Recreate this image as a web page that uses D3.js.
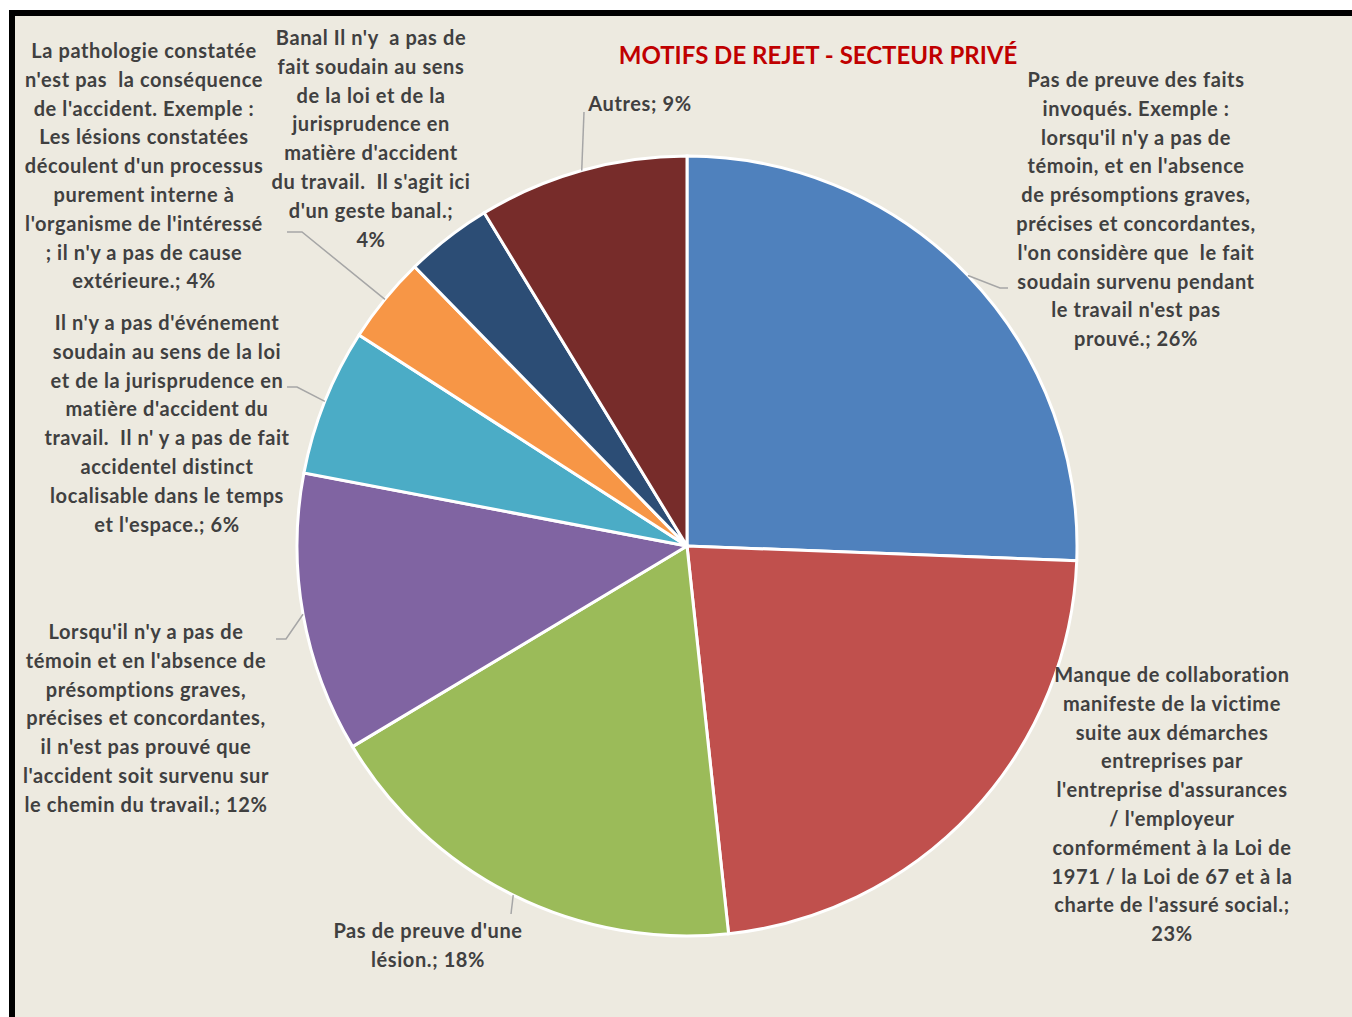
<!DOCTYPE html>
<html>
<head>
<meta charset="utf-8">
<script src="https://cdn.jsdelivr.net/npm/d3@7"></script>
<style>
  body { margin: 0; background: #fff; }
  text { font-family: Lato, "Open Sans", sans-serif; font-weight: bold; white-space: pre; }
</style>
</head>
<body>
<div id="chart"></div>
<script>
const title = "MOTIFS DE REJET - SECTEUR PRIVÉ"

// slices, clockwise from 12 o'clock
const categories = [
  "Pas de preuve des faits invoqués",
  "Manque de collaboration manifeste de la victime",
  "Pas de preuve d'une lésion",
  "Chemin du travail non prouvé",
  "Pas d'événement soudain",
  "Pathologie non consécutive à l'accident",
  "Banal",
  "Autres"
]
const values = [25.6, 22.7, 18.1, 11.6, 6.1, 3.6, 3.6, 8.7]
const colors = ["#4F81BD", "#C0504D", "#9BBB59", "#8064A2", "#4BACC6", "#F79646", "#2C4D75", "#772C2A"]

// label text, percentage goes at the end of the last line
const labelLines = [
  ["Pas de preuve des faits", "invoqués. Exemple :", "lorsqu'il n'y a pas de", "témoin, et en l'absence",
   "de présomptions graves,", "précises et concordantes,", "l'on considère que  le fait",
   "soudain survenu pendant", "le travail n'est pas", "prouvé.; "],
  ["Manque de collaboration", "manifeste de la victime", "suite aux démarches", "entreprises par",
   "l'entreprise d'assurances", "/ l'employeur", "conformément à la Loi de",
   "1971 / la Loi de 67 et à la", "charte de l'assuré social.;", ""],
  ["Pas de preuve d'une", "lésion.; "],
  ["Lorsqu'il n'y a pas de", "témoin et en l'absence de", "présomptions graves,", "précises et concordantes,",
   "il n'est pas prouvé que", "l'accident soit survenu sur", "le chemin du travail.; "],
  ["Il n'y a pas d'événement", "soudain au sens de la loi", "et de la jurisprudence en", "matière d'accident du",
   "travail.  Il n' y a pas de fait", "accidentel distinct", "localisable dans le temps", "et l'espace.; "],
  ["La pathologie constatée", "n'est pas  la conséquence", "de l'accident. Exemple :", "Les lésions constatées",
   "découlent d'un processus", "purement interne à", "l'organisme de l'intéressé",
   "; il n'y a pas de cause", "extérieure.; "],
  ["Banal Il n'y  a pas de", "fait soudain au sens", "de la loi et de la", "jurisprudence en",
   "matière d'accident", "du travail.  Il s'agit ici", "d'un geste banal.;", ""],
  ["Autres; "]
]

// label placement: text centre x, first baseline y, leader elbow (null = no leader)
const labelPos = [
  {x: 1136, y: 87,  elbow: [1000, 288], end: [1008, 288]},
  {x: 1172, y: 682, elbow: null},
  {x: 428,  y: 938, elbow: [511, 914], end: [511, 914]},
  {x: 146,  y: 639, elbow: [286, 639], end: [276, 639]},
  {x: 167,  y: 330, elbow: [297, 387], end: [287, 387]},
  {x: 144,  y: 58,  elbow: [302, 232], end: [287, 232]},
  {x: 371,  y: 45,  elbow: null},
  {x: 640,  y: 111, elbow: [584, 112], end: [584, 112]}
]

const width = 1352, height = 1017
const cx = 687, cy = 546, radius = 390
const lineHeight = 28.8

const svg = d3.select("#chart").append("svg")
  .attr("width", width)
  .attr("height", height)

// frame
svg.append("rect")
  .attr("x", 12).attr("y", 13)
  .attr("width", width + 20).attr("height", height + 20)
  .attr("fill", "#EDEAE0")
  .attr("stroke", "#000")
  .attr("stroke-width", 6)

svg.append("text")
  .attr("x", 818).attr("y", 64)
  .attr("text-anchor", "middle")
  .attr("fill", "#C00000")
  .style("font-size", "24px")
  .text(title)

const total = d3.sum(values)
const pct = d3.format(".0%")

const pie = d3.pie().sort(null).value(d => d)
const arcs = pie(values)
const arc = d3.arc().innerRadius(0).outerRadius(radius)

const g = svg.append("g").attr("transform", `translate(${cx},${cy})`)

g.selectAll("path.slice")
  .data(arcs)
  .enter().append("path")
  .attr("class", "slice")
  .attr("d", arc)
  .attr("fill", (d, i) => colors[i])
  .attr("stroke", "#fff")
  .attr("stroke-width", 3)

// leader lines from the edge of each slice at its mid angle
const edgePoint = d => {
  const a = (d.startAngle + d.endAngle) / 2
  return [cx + radius * Math.sin(a), cy - radius * Math.cos(a)]
}

svg.selectAll("path.leader")
  .data(arcs.filter((d, i) => labelPos[i].elbow))
  .enter().append("path")
  .attr("class", "leader")
  .attr("d", d => {
    const p = labelPos[d.index]
    return d3.line()([edgePoint(d), p.elbow, p.end])
  })
  .attr("fill", "none")
  .attr("stroke", "#A6A6A6")
  .attr("stroke-width", 1.5)

const labels = svg.selectAll("text.label")
  .data(arcs)
  .enter().append("text")
  .attr("class", "label")
  .attr("text-anchor", "middle")
  .attr("fill", "#404040")
  .style("font-size", "20px")
  .style("letter-spacing", "0.6px")

labels.each(function(d, i) {
  const lines = labelLines[i].slice()
  lines[lines.length - 1] += pct(d.value / total)
  const p = labelPos[i]
  d3.select(this).selectAll("tspan")
    .data(lines)
    .enter().append("tspan")
    .attr("x", p.x)
    .attr("y", (l, k) => p.y + k * lineHeight)
    .text(l => l)
})
</script>
</body>
</html>
